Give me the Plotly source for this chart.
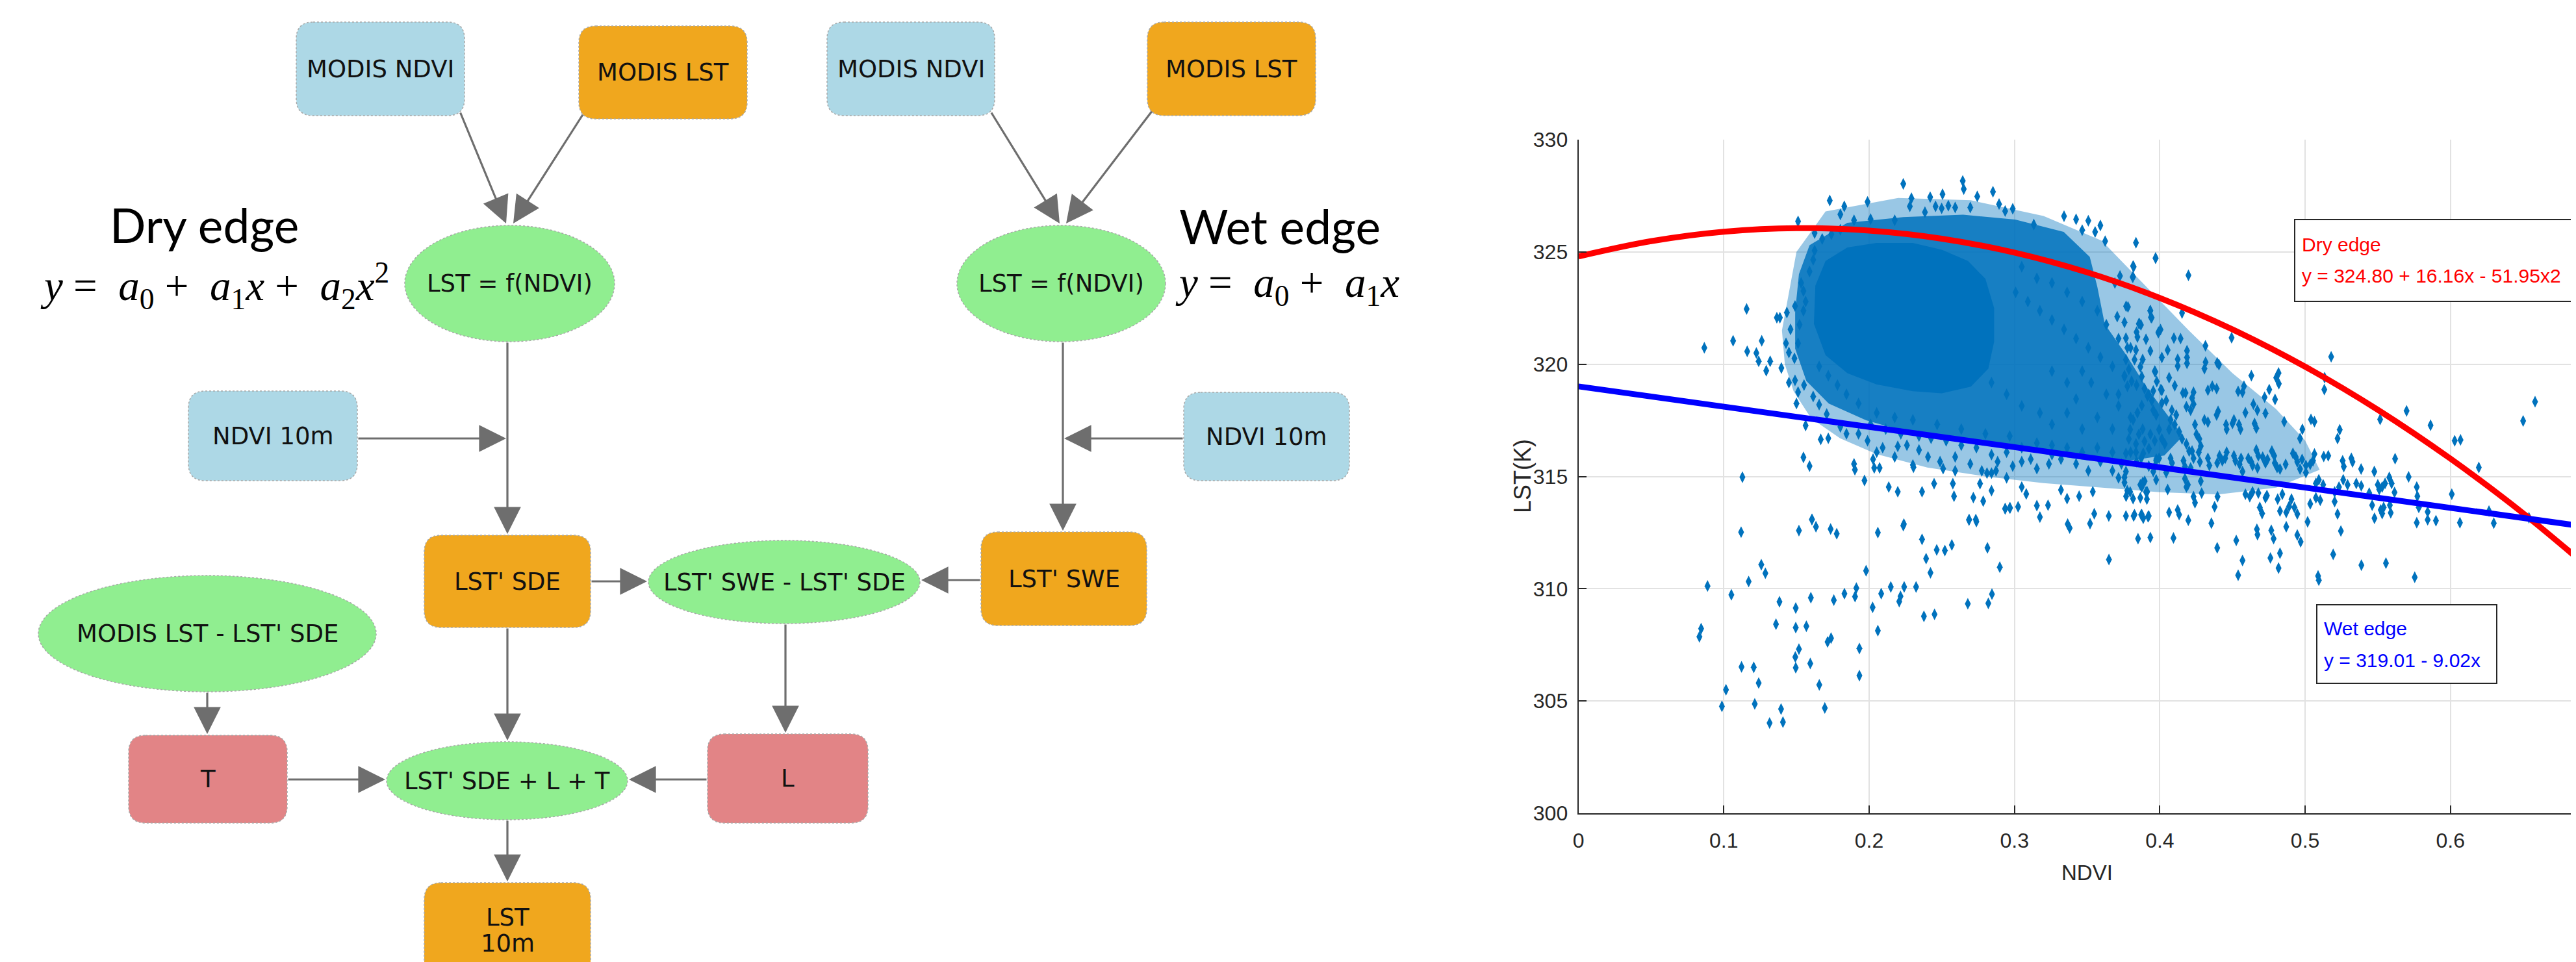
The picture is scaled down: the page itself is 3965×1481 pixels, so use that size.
import plotly.graph_objects as go

W, H = 3965, 1481

# ------------------------------------------------------------------ scatter data
NDVI_TICKS = [0, 0.1, 0.2, 0.3, 0.4, 0.5, 0.6]
NDVI_TICK_LABELS = ["0", "0.1", "0.2", "0.3", "0.4", "0.5", "0.6"]
LST_TICKS = [300, 305, 310, 315, 320, 325, 330]
LST_TICK_LABELS = ["300", "305", "310", "315", "320", "325", "330"]

PTS_LOWER_LEFT = [
    (0.0888, 310.12), (0.0844, 308.22), (0.0832, 307.86), (0.1119, 312.52), (0.1052, 309.73),
    (0.1171, 310.32), (0.1258, 311.07), (0.1286, 310.69), (0.1383, 309.42), (0.1359, 308.42),
    (0.1122, 306.52), (0.1206, 306.50), (0.1240, 305.80), (0.1015, 305.50), (0.0987, 304.76),
    (0.1213, 304.87), (0.1394, 304.64), (0.1315, 304.02), (0.1407, 304.06), (0.1517, 312.59),
    (0.1607, 313.09), (0.1634, 312.76), (0.1735, 312.66), (0.1777, 312.45), (0.1495, 309.14),
    (0.1495, 308.27), (0.1568, 308.33), (0.1599, 309.60), (0.1517, 307.31), (0.1492, 306.96),
    (0.1495, 306.48), (0.1595, 306.67), (0.1657, 305.72), (0.1695, 304.69), (0.1714, 307.63),
    (0.1738, 307.80), (0.1757, 309.49), (0.1830, 309.78), (0.1903, 309.65), (0.1912, 310.03),
    (0.1979, 310.80), (0.1933, 307.34), (0.1933, 306.13), (0.2024, 309.17), (0.2060, 312.50),
    (0.2060, 308.13), (0.2083, 309.78), (0.2149, 310.08), (0.2216, 309.66), (0.2207, 309.43),
    (0.2241, 310.08), (0.2235, 312.81), (0.2323, 310.08), (0.2364, 312.20), (0.2392, 311.34),
    (0.2422, 310.71), (0.2465, 311.73), (0.2521, 311.70), (0.2569, 311.95), (0.2377, 308.77),
    (0.2450, 308.86), (0.2687, 313.06), (0.2738, 312.99), (0.2785, 313.90), (0.2814, 311.82),
    (0.2899, 310.96), (0.2845, 309.76), (0.2820, 309.35), (0.2679, 309.33), (0.2936, 313.56),
    (0.2970, 313.60), (0.3025, 313.65), (0.338, 312.70), (0.365, 311.30), (0.352, 312.90),
]

PTS_UPPER = [
    (0.2235, 328.03), (0.2644, 328.16), (0.2651, 327.80), (0.2505, 327.57), (0.2852, 327.68),
    (0.2744, 327.47), (0.2291, 327.39), (0.2420, 327.44), (0.1729, 327.29), (0.1989, 327.23),
    (0.1829, 327.03), (0.2280, 327.03), (0.2457, 327.03), (0.2545, 327.06), (0.2696, 326.98),
    (0.2894, 327.13), (0.2988, 326.92), (0.2592, 326.98), (0.2384, 326.77), (0.2499, 326.94),
    (0.1802, 326.67), (0.2010, 326.46), (0.2176, 326.41), (0.2936, 326.82), (0.3133, 326.22),
    (0.3341, 326.59), (0.3424, 326.45), (0.3508, 326.39), (0.3591, 326.18), (0.3466, 325.97),
    (0.3555, 325.89), (0.3624, 325.48), (0.3836, 325.41), (0.3971, 324.73), (0.3820, 324.34),
    (0.3726, 323.93), (0.3813, 323.88), (0.3691, 323.62), (0.3768, 322.58), (0.3934, 322.38),
    (0.3944, 322.07), (0.3859, 321.81), (0.3990, 321.40), (0.3707, 322.12), (0.3757, 321.86),
    (0.1511, 326.36), (0.1625, 325.84),
    (0.1532, 323.62), (0.1548, 323.26), (0.1563, 322.79), (0.1590, 324.13), (0.1615, 324.65),
    (0.1625, 325.06), (0.1677, 325.58), (0.1740, 325.79), (0.1802, 325.99), (0.1896, 326.41),
]

PTS_LEFT = [
    (0.1157, 322.46), (0.0866, 320.73), (0.1064, 321.04), (0.1261, 321.04), (0.1161, 320.57),
    (0.1224, 320.50), (0.1240, 320.13), (0.1319, 320.13), (0.1396, 319.83), (0.1292, 319.71),
    (0.1365, 322.07), (0.1386, 322.07), (0.1434, 322.30), (0.1490, 322.59), (0.1459, 321.55),
    (0.1428, 320.93), (0.1448, 320.52), (0.1486, 320.26), (0.1511, 320.93), (0.1521, 321.76),
    (0.1548, 322.38), (0.1448, 319.18), (0.1490, 319.28), (0.1511, 318.76), (0.1552, 319.07),
    (0.1500, 318.25), (0.1563, 317.27), (0.1548, 315.85), (0.1590, 315.46), (0.1128, 314.97),
    (0.1606, 313.08), (0.1615, 318.56), (0.1656, 318.20), (0.1708, 317.78), (0.1719, 316.70),
    (0.1667, 316.65),
    (0.1656, 319.90), (0.1719, 319.49), (0.1782, 319.07), (0.1844, 318.66), (0.1927, 318.25),
    (0.2052, 317.83), (0.2176, 317.63), (0.2301, 317.52), (0.2468, 317.32), (0.2634, 317.11),
    (0.2800, 316.90), (0.2967, 316.80),
]

PTS_BOTTOM = [
    (0.1968, 314.82), (0.2135, 314.53), (0.2197, 314.32), (0.2239, 312.88), (0.2364, 314.32),
    (0.2447, 314.68), (0.2576, 314.68), (0.2584, 314.12), (0.2717, 314.06), (0.2763, 314.68),
    (0.2842, 314.37), (0.2936, 313.57), (0.2967, 313.60), (0.3050, 314.53), (0.3081, 314.22),
    (0.3154, 313.70), (0.3175, 313.19), (0.3231, 313.72), (0.3320, 314.40), (0.3362, 314.01),
    (0.3445, 314.12), (0.3539, 314.32), (0.3549, 313.34), (0.3649, 313.24), (0.3716, 314.94),
    (0.3757, 314.73), (0.3768, 314.12), (0.3820, 313.24), (0.3872, 313.29), (0.3924, 313.24),
    (0.3882, 314.73), (0.3913, 314.32), (0.2688, 313.08), (0.2734, 313.08), (0.3366, 312.88),
    (0.2946, 314.94), (0.2842, 315.15), (0.2775, 315.25),
    (0.1802, 317.21), (0.1844, 316.90), (0.1896, 315.56), (0.1902, 315.30), (0.2027, 315.77),
    (0.2035, 315.38), (0.2072, 315.38), (0.2197, 316.34), (0.2260, 316.39), (0.2301, 315.51),
    (0.2305, 315.41), (0.2488, 315.66), (0.2509, 315.35), (0.2592, 315.25), (0.2696, 315.56),
    (0.2811, 315.15), (0.2873, 315.25), (0.2988, 315.46), (0.3050, 315.66), (0.3154, 315.35),
    (0.3237, 315.56), (0.3258, 315.97), (0.3320, 315.77), (0.3424, 315.56), (0.3508, 315.25),
    (0.3591, 315.66), (0.3674, 315.25), (0.3736, 315.56), (0.3840, 315.66), (0.3924, 315.46),
    (0.3976, 315.77), (0.3799, 316.08), (0.3674, 316.08), (0.3570, 316.28), (0.3466, 316.08),
    (0.3362, 316.28), (0.3258, 316.39), (0.3154, 316.49), (0.3050, 316.28), (0.2946, 316.08),
    (0.2842, 315.97), (0.2738, 316.28), (0.2634, 316.39), (0.2530, 316.59), (0.2426, 316.70),
    (0.2343, 316.80), (0.2218, 316.90), (0.2114, 317.11), (0.2010, 317.32), (0.1927, 316.90),
    (0.1989, 316.59), (0.2093, 316.28), (0.2343, 316.18), (0.2405, 315.87), (0.2176, 315.87),
    (0.2052, 316.08), (0.2592, 315.87), (0.2884, 315.66), (0.3112, 315.77),
]

PTS_MID = [
    (0.3050, 324.34), (0.3154, 323.82), (0.3258, 323.62), (0.3362, 323.20), (0.3466, 322.79),
    (0.3570, 322.38), (0.3632, 321.76), (0.3716, 321.14), (0.3799, 320.73), (0.3882, 320.21),
    (0.3965, 319.69), (0.4007, 318.87), (0.3924, 318.66), (0.3840, 319.07), (0.3757, 319.49),
    (0.3674, 319.90), (0.3591, 320.31), (0.3508, 320.73), (0.3424, 321.14), (0.3341, 321.55),
    (0.3258, 321.97), (0.3175, 322.38), (0.3092, 322.79), (0.3008, 323.20), (0.3528, 319.18),
    (0.3632, 318.66), (0.3716, 318.14), (0.3799, 317.63), (0.3882, 317.11), (0.3965, 316.59),
    (0.3424, 318.45), (0.3362, 317.83), (0.3570, 317.63), (0.3674, 317.11), (0.3466, 317.11),
    (0.3258, 317.32), (0.3362, 319.18), (0.3258, 319.69), (0.3466, 319.69), (0.3716, 318.66),
    (0.3050, 318.14), (0.3175, 317.83), (0.2946, 318.66), (0.2842, 319.18),
]

PTS_TAIL = [
    (0.3971, 324.72), (0.3816, 324.37), (0.3816, 323.89), (0.4197, 323.96), (0.3781, 322.55),
    (0.3935, 322.39), (0.3939, 322.09), (0.4153, 322.28), (0.3856, 321.80), (0.3870, 321.75),
    (0.4005, 321.54), (0.3991, 321.43), (0.3840, 321.43), (0.3846, 321.21), (0.3905, 321.11),
    (0.4097, 321.16), (0.4143, 321.14), (0.4494, 321.18), (0.4314, 320.82), (0.3935, 320.59),
    (0.4054, 320.63), (0.4187, 320.60), (0.4187, 320.30), (0.4187, 320.04), (0.4014, 320.30),
    (0.4123, 320.22), (0.4123, 319.92), (0.4315, 320.09), (0.4307, 319.80), (0.4395, 320.06),
    (0.4407, 319.98), (0.4630, 319.49), (0.4801, 319.40), (0.4817, 319.61), (0.4819, 319.13),
    (0.3969, 319.66), (0.3979, 319.23), (0.4064, 319.40), (0.4103, 319.04), (0.4014, 318.83),
    (0.3955, 318.81), (0.4159, 318.72), (0.4177, 318.72), (0.4331, 318.84), (0.4361, 319.02),
    (0.4391, 318.91), (0.4539, 318.79), (0.4569, 318.75), (0.4579, 319.02), (0.4232, 318.75),
    (0.4222, 318.49), (0.4232, 318.22), (0.4753, 318.87), (0.4721, 318.53), (0.4793, 318.43),
    (0.5132, 318.87), (0.5179, 320.33), (0.5134, 319.40), (0.4644, 318.22), (0.4671, 317.95),
    (0.4727, 317.81), (0.4589, 317.84), (0.4401, 317.90), (0.4391, 317.74), (0.4510, 317.52),
    (0.4500, 317.36), (0.4331, 317.42), (0.4307, 317.52), (0.4183, 318.11), (0.4212, 317.95),
    (0.4083, 317.95), (0.4113, 317.74), (0.4014, 318.27), (0.4044, 318.38), (0.4456, 317.31),
    (0.4460, 317.10), (0.4545, 317.31), (0.4555, 317.10), (0.4652, 317.36), (0.4664, 317.15),
    (0.4856, 317.44), (0.4981, 317.10), (0.5040, 317.54), (0.5064, 317.44), (0.4965, 316.69),
    (0.5223, 316.69), (0.5238, 317.08), (0.5516, 317.54), (0.5698, 317.92), (0.5863, 317.28),
    (0.6029, 316.59), (0.6069, 316.63), (0.6500, 317.47), (0.6582, 318.33), (0.6195, 315.40),
    (0.5619, 315.79), (0.5712, 314.98), (0.5385, 315.33), (0.5476, 315.22), (0.5258, 315.70),
    (0.5266, 315.44), (0.5318, 315.81), (0.5326, 315.65), (0.5128, 315.89), (0.5159, 315.92),
    (0.5064, 316.00), (0.5054, 315.70), (0.5035, 315.54), (0.5005, 315.49), (0.5005, 315.17),
    (0.4916, 316.03), (0.4936, 315.86), (0.4946, 315.65), (0.4965, 315.33), (0.4979, 315.76),
    (0.4866, 315.54), (0.4827, 315.33), (0.4771, 316.13), (0.4787, 315.92), (0.4791, 315.60),
    (0.4807, 315.40), (0.4741, 315.76), (0.4727, 315.60), (0.4708, 315.86), (0.4664, 316.18),
    (0.4678, 315.92), (0.4672, 315.38), (0.4609, 315.81), (0.4629, 315.65), (0.4638, 315.49),
    (0.4559, 315.81), (0.4549, 315.54), (0.4569, 315.22), (0.4510, 315.92), (0.4520, 315.70),
    (0.4460, 316.08), (0.4450, 315.81), (0.4411, 315.92), (0.4395, 315.60), (0.4430, 315.70),
    (0.4331, 315.81), (0.4341, 315.49), (0.4282, 316.35), (0.4268, 316.08), (0.4276, 315.65),
    (0.4222, 316.13), (0.4232, 315.81), (0.4212, 315.38), (0.4163, 315.70), (0.4173, 315.44),
    (0.4074, 315.81), (0.4084, 315.60), (0.3975, 315.70), (0.3965, 315.44), (0.3955, 315.22),
    (0.3886, 316.03), (0.3872, 315.81), (0.3836, 316.08), (0.3767, 315.22), (0.3757, 314.96),
    (0.3975, 314.85), (0.4044, 315.17), (0.4054, 314.42), (0.4173, 314.90), (0.4183, 314.53),
    (0.4193, 314.63), (0.4232, 314.10), (0.4242, 313.83), (0.4288, 314.26), (0.4282, 314.79),
    (0.3896, 314.79), (0.3866, 314.63), (0.3876, 314.53), (0.3911, 313.99), (0.3905, 314.31),
    (0.3796, 314.31), (0.3776, 314.37), (0.3816, 314.01), (0.3866, 314.05), (0.3767, 313.24),
    (0.3826, 313.30), (0.3876, 313.30), (0.3886, 313.14), (0.3919, 313.21), (0.3850, 312.23),
    (0.3935, 312.28), (0.4064, 313.40), (0.4123, 313.51), (0.4133, 313.30), (0.4196, 313.05),
    (0.4094, 312.26), (0.4355, 312.92), (0.4377, 313.65), (0.4397, 314.10), (0.4395, 311.82),
    (0.4526, 312.15), (0.4569, 311.26), (0.4539, 310.60), (0.4668, 312.65), (0.4672, 312.41),
    (0.4589, 314.21), (0.4619, 314.10), (0.4638, 314.31), (0.4678, 314.26), (0.4688, 313.62),
    (0.4704, 313.35), (0.4727, 314.05), (0.4737, 314.15), (0.4767, 312.60), (0.4783, 312.23),
    (0.4761, 311.37), (0.4827, 311.58), (0.4817, 310.92), (0.4827, 313.46), (0.4870, 313.40),
    (0.4843, 314.21), (0.4811, 313.99), (0.4906, 313.99), (0.4890, 313.67), (0.4926, 313.62),
    (0.4946, 313.33), (0.4870, 312.76), (0.4946, 312.39), (0.4969, 312.09), (0.5017, 312.98),
    (0.5035, 313.78), (0.5074, 314.05), (0.5104, 313.94), (0.5074, 314.69), (0.5124, 314.63),
    (0.5094, 314.85), (0.5203, 314.31), (0.5203, 313.88), (0.5223, 313.33), (0.5246, 312.57),
    (0.5193, 311.53), (0.5089, 310.57), (0.5094, 310.38), (0.5387, 311.05), (0.5556, 311.14),
    (0.5754, 310.51), (0.5262, 314.85), (0.5292, 314.63), (0.5233, 314.53), (0.5352, 314.69),
    (0.5386, 314.58), (0.5441, 314.26), (0.5461, 313.72), (0.5477, 313.14), (0.5500, 314.63),
    (0.5510, 314.42), (0.5530, 314.53), (0.5550, 314.69), (0.5520, 313.51), (0.5540, 313.62),
    (0.5530, 313.35), (0.5579, 314.96), (0.5595, 314.69), (0.5583, 313.72), (0.5615, 314.29),
    (0.5589, 313.38), (0.5768, 314.53), (0.5772, 314.12), (0.5782, 313.62), (0.5768, 312.94),
    (0.5843, 313.42), (0.5843, 313.07), (0.5900, 313.03), (0.6009, 314.21), (0.6065, 312.94),
    (0.6298, 312.92), (0.6265, 313.46), (0.6540, 313.16),
    (0.3767, 321.16), (0.3777, 320.73), (0.3767, 320.20), (0.3787, 319.77), (0.3757, 319.45),
    (0.3777, 319.02), (0.3806, 319.24), (0.3826, 320.20), (0.3836, 320.63), (0.3866, 319.88),
    (0.3876, 319.45), (0.3895, 318.91), (0.3915, 318.59), (0.3945, 318.38), (0.3955, 317.95),
    (0.3975, 317.74), (0.3876, 318.16), (0.3846, 317.84), (0.3816, 317.52), (0.3796, 317.09),
    (0.3856, 316.88), (0.3895, 316.56), (0.3935, 316.88), (0.3995, 317.09), (0.4014, 316.67),
    (0.4034, 316.45), (0.4064, 317.09), (0.4074, 317.52), (0.4103, 317.31), (0.4133, 316.99),
    (0.4153, 316.67), (0.4183, 316.45), (0.4202, 316.13), (0.4252, 316.88), (0.4272, 316.67),
    (0.4242, 317.31), (0.3995, 315.81), (0.3925, 316.24), (0.3836, 316.45), (0.3787, 316.67),
    (0.3767, 316.03),
]

# outlines of the saturated / densely overplotted parts of the cloud
CORE_NDVI = [0.163, 0.170, 0.185, 0.205, 0.230, 0.250, 0.268, 0.280, 0.286, 0.286,
             0.282, 0.270, 0.250, 0.230, 0.205, 0.185, 0.170, 0.162]
CORE_LST = [323.5, 324.6, 325.2, 325.4, 325.4, 325.1, 324.6, 323.8, 322.5, 321.0,
            319.8, 319.0, 318.7, 318.8, 319.1, 319.6, 320.4, 321.8]
INNER_NDVI = [0.1517, 0.1590, 0.1850, 0.2235, 0.2646, 0.3005, 0.3339, 0.3518, 0.3570, 0.3621,
              0.3775, 0.3903, 0.4031, 0.4160, 0.4031, 0.3775, 0.3518, 0.3262, 0.3005, 0.2749,
              0.2492, 0.2235, 0.1979, 0.1722, 0.1568, 0.1491, 0.1491]
INNER_LST = [324.01, 325.30, 326.30, 326.55, 326.66, 326.44, 325.89, 324.78, 323.45, 321.79,
             320.35, 319.02, 317.92, 316.81, 315.93, 315.70, 315.70, 315.93, 316.26, 316.48,
             316.70, 317.03, 317.50, 318.25, 319.25, 320.69, 322.35]
OUTER_NDVI = [0.140, 0.150, 0.170, 0.220, 0.270, 0.320, 0.360, 0.390, 0.420, 0.450, 0.480,
              0.500, 0.510, 0.480, 0.440, 0.400, 0.360, 0.320, 0.280, 0.240, 0.205, 0.180,
              0.160, 0.148, 0.142]
OUTER_LST = [321.5, 325.0, 326.8, 327.4, 327.3, 326.6, 325.5, 323.5, 321.5, 319.6, 318.0,
             316.6, 315.3, 314.5, 314.2, 314.3, 314.5, 314.7, 315.0, 315.4, 316.0, 316.7,
             317.6, 318.8, 320.0]

DRY_NDVI = [0, 0.05, 0.10, 0.15, 0.20, 0.25, 0.30, 0.35, 0.40, 0.45, 0.50, 0.55, 0.60, 0.65, 0.70]
DRY_LST = [324.80, 325.48, 325.90, 326.06, 325.95, 325.59, 324.97, 324.09, 322.95, 321.55,
           319.89, 317.97, 315.79, 313.36, 310.66]
WET_NDVI = [0, 0.70]
WET_LST = [319.01, 312.70]

DRY_TEXT = ["Dry edge", "y = 324.80 + 16.16x - 51.95x2"]
WET_TEXT = ["Wet edge", "y = 319.01 - 9.02x"]
AXIS_TITLES = ["NDVI", "LST(K)"]

# ------------------------------------------------------------------ flowchart content
NODE_LABELS = {
    "ndvi_l": "MODIS NDVI", "lst_l": "MODIS LST", "f_l": "LST = f(NDVI)",
    "ndvi10_l": "NDVI 10m", "sde": "LST' SDE", "diff": "LST' SWE - LST' SDE",
    "swe": "LST' SWE", "mod_diff": "MODIS LST - LST' SDE", "T": "T",
    "sum": "LST' SDE + L + T", "L": "L", "lst10": "",
    "ndvi_r": "MODIS NDVI", "lst_r": "MODIS LST", "f_r": "LST = f(NDVI)",
    "ndvi10_r": "NDVI 10m",
}
LST10_LINES = ["LST", "10m"]
EDGE_TITLES = ["Dry edge", "Wet edge"]
EDGE_EQUATIONS = [
    "<i>y</i> =\u00a0\u00a0<i>a</i><sub>0</sub> +\u00a0\u00a0<i>a</i><sub>1</sub><i>x</i> +\u00a0\u00a0<i>a</i><sub>2</sub><i>x</i><sup>2</sup>",
    "<i>y</i> =\u00a0\u00a0<i>a</i><sub>0</sub> +\u00a0\u00a0<i>a</i><sub>1</sub><i>x</i>",
]

# ------------------------------------------------------------------ styles / layout geometry
BLUE_BOX, ORANGE_BOX, GREEN_BOX, RED_BOX = "#ADD8E6", "#F0A71E", "#90EE90", "#E28486"
MATLAB_BLUE = "#0072BD"
ARROW_COLOR = "#6E6E6E"

NODE_GEOM = {
    "ndvi_l": ("rect", 456, 34, 715, 178, BLUE_BOX),
    "lst_l": ("rect", 891, 40, 1150, 183, ORANGE_BOX),
    "f_l": ("ellipse", 623, 347, 946, 526, GREEN_BOX),
    "ndvi10_l": ("rect", 290, 602, 550, 740, BLUE_BOX),
    "sde": ("rect", 653, 824, 909, 966, ORANGE_BOX),
    "diff": ("ellipse", 998, 832, 1416, 960, GREEN_BOX),
    "swe": ("rect", 1510, 819, 1765, 963, ORANGE_BOX),
    "mod_diff": ("ellipse", 59, 886, 579, 1065, GREEN_BOX),
    "T": ("rect", 198, 1132, 442, 1267, RED_BOX),
    "sum": ("ellipse", 595, 1142, 966, 1262, GREEN_BOX),
    "L": ("rect", 1089, 1130, 1336, 1267, RED_BOX),
    "lst10": ("rect", 653, 1359, 909, 1530, ORANGE_BOX),
    "ndvi_r": ("rect", 1273, 34, 1531, 178, BLUE_BOX),
    "lst_r": ("rect", 1766, 34, 2025, 178, ORANGE_BOX),
    "f_r": ("ellipse", 1473, 347, 1794, 526, GREEN_BOX),
    "ndvi10_r": ("rect", 1822, 604, 2077, 740, BLUE_BOX),
}
LST10_TEXT_Y = [1412, 1452]

ARROWS = [  # tail x, tail y, head x, head y
    (708, 172, 779, 344), (898, 175, 790, 344), (781, 526, 781, 822), (550, 675, 779, 675),
    (1525, 172, 1631, 344), (1774, 170, 1641, 344), (1636, 526, 1636, 817), (1822, 675, 1638, 675),
    (909, 895, 996, 895), (1510, 893, 1418, 893), (781, 966, 781, 1140), (1209, 960, 1209, 1128),
    (319, 1065, 319, 1130), (442, 1200, 593, 1200), (1089, 1200, 968, 1200), (781, 1262, 781, 1357),
]
EDGE_TITLE_POS = [(314, 346), (1970, 348)]
EDGE_EQ_POS = [(330, 440), (1981, 440)]

OFF = 8                       # default page (body) margin of the html file
FW, FH = W - OFF, H - OFF     # figure size so that the page does not overflow
X_DOM = [(2429.6 - OFF) / FW, 1.0]
Y_DOM = [(H - 1252) / FH, (H - 215) / FH]
X_RANGE = [0, (W - 2429.6) / 2237.0]

TICKFONT = "Liberation Sans, Arial, sans-serif"
NODEFONT = dict(family="DejaVu Sans", size=37, color="#111111")


def rrect(x0, y0, x1, y1, r):
    return (f"M{x0 + r},{y0} L{x1 - r},{y0} Q{x1},{y0} {x1},{y0 + r} L{x1},{y1 - r} "
            f"Q{x1},{y1} {x1 - r},{y1} L{x0 + r},{y1} Q{x0},{y1} {x0},{y1 - r} "
            f"L{x0},{y0 + r} Q{x0},{y0} {x0 + r},{y0} Z")


fig = go.Figure()

# overplotted regions of the scatter cloud
for nd, ls, col in [(OUTER_NDVI, OUTER_LST, "rgba(0,114,189,0.40)"),
                    (INNER_NDVI, INNER_LST, "rgba(0,114,189,0.85)"),
                    (CORE_NDVI, CORE_LST, MATLAB_BLUE)]:
    fig.add_trace(go.Scatter(x=nd + nd[:1], y=ls + ls[:1], mode="lines", fill="toself",
                             fillcolor=col, line=dict(width=0),
                             hoverinfo="skip", showlegend=False, xaxis="x", yaxis="y"))

all_pts = PTS_LOWER_LEFT + PTS_UPPER + PTS_LEFT + PTS_BOTTOM + PTS_MID + PTS_TAIL
fig.add_trace(go.Scatter(x=[p[0] for p in all_pts], y=[p[1] for p in all_pts], mode="markers",
                         marker=dict(symbol="diamond-tall", size=13, color=MATLAB_BLUE,
                                     line=dict(width=0)),
                         showlegend=False, xaxis="x", yaxis="y"))

fig.add_trace(go.Scatter(x=DRY_NDVI, y=DRY_LST, mode="lines", line=dict(color="#FF0000", width=9,
                         shape="spline"), showlegend=False, xaxis="x", yaxis="y"))
fig.add_trace(go.Scatter(x=WET_NDVI, y=WET_LST, mode="lines", line=dict(color="#0000FF", width=9),
                         showlegend=False, xaxis="x", yaxis="y"))

shapes = []
annotations = []

# flowchart nodes
for key, (kind, x0, y0, x1, y1, col) in NODE_GEOM.items():
    if kind == "rect":
        shapes.append(dict(type="path", path=rrect(x0, y0, x1, y1, 26), xref="x2", yref="y2",
                           fillcolor=col, line=dict(color="#A8A8A8", width=1.5, dash="dot"),
                           layer="below"))
    else:
        shapes.append(dict(type="circle", x0=x0, y0=y0, x1=x1, y1=y1, xref="x2", yref="y2",
                           fillcolor=col, line=dict(color="#A8A8A8", width=1.5, dash="dot"),
                           layer="below"))
    if NODE_LABELS[key]:
        annotations.append(dict(x=(x0 + x1) / 2, y=(y0 + y1) / 2, xref="x2", yref="y2",
                                text=NODE_LABELS[key], showarrow=False, font=NODEFONT,
                                xanchor="center", yanchor="middle"))

_, lx0, _, lx1, _, _ = NODE_GEOM["lst10"]
for t, ty in zip(LST10_LINES, LST10_TEXT_Y):
    annotations.append(dict(x=(lx0 + lx1) / 2, y=ty, xref="x2", yref="y2", text=t,
                            showarrow=False, font=NODEFONT, xanchor="center", yanchor="middle"))

for (tx, ty, hx, hy) in ARROWS:
    annotations.append(dict(x=hx, y=hy, ax=tx, ay=ty, xref="x2", yref="y2", axref="x2", ayref="y2",
                            text="", showarrow=True, arrowhead=2, arrowsize=2.6, arrowwidth=3.2,
                            arrowcolor=ARROW_COLOR, standoff=0, startstandoff=0))

for (px, py), t in zip(EDGE_TITLE_POS, EDGE_TITLES):
    annotations.append(dict(x=px, y=py, xref="x2", yref="y2", text=t, showarrow=False,
                            font=dict(family="Lato", size=73, color="#000000"),
                            xanchor="center", yanchor="middle"))
for (px, py), t in zip(EDGE_EQ_POS, EDGE_EQUATIONS):
    annotations.append(dict(x=px, y=py, xref="x2", yref="y2", text=t, showarrow=False,
                            font=dict(family="Liberation Serif", size=65, color="#000000"),
                            xanchor="center", yanchor="middle"))

# scatter legend boxes
shapes.append(dict(type="rect", x0=3532, y0=338, x1=4010, y1=464, xref="x2", yref="y2",
                   line=dict(color="#262626", width=2), fillcolor="white", layer="above"))
shapes.append(dict(type="rect", x0=3566, y0=931, x1=3843, y1=1052, xref="x2", yref="y2",
                   line=dict(color="#262626", width=2), fillcolor="white", layer="above"))
for (py, t) in zip([376, 424], DRY_TEXT):
    annotations.append(dict(x=3541, y=py, xref="x2", yref="y2", text=t, showarrow=False,
                            font=dict(family=TICKFONT, size=30, color="#FF0000"),
                            xanchor="left", yanchor="middle"))
for (py, t) in zip([967, 1016], WET_TEXT):
    annotations.append(dict(x=3575, y=py, xref="x2", yref="y2", text=t, showarrow=False,
                            font=dict(family=TICKFONT, size=30, color="#0000FF"),
                            xanchor="left", yanchor="middle"))

# axis titles
annotations.append(dict(x=0.35, y=1343, xref="x", yref="y2", text=AXIS_TITLES[0], showarrow=False,
                        font=dict(family=TICKFONT, size=33, color="#262626"),
                        xanchor="center", yanchor="middle"))
annotations.append(dict(x=2343, y=733, xref="x2", yref="y2", text=AXIS_TITLES[1], showarrow=False,
                        textangle=-90, font=dict(family=TICKFONT, size=36, color="#262626"),
                        xanchor="center", yanchor="middle"))

fig.update_layout(
    width=FW, height=FH, margin=dict(l=0, r=0, t=0, b=0, pad=0), autosize=False,
    paper_bgcolor="white", plot_bgcolor="rgba(0,0,0,0)",
    showlegend=False,
    xaxis=dict(domain=X_DOM, range=X_RANGE, tickvals=NDVI_TICKS, ticktext=NDVI_TICK_LABELS,
               ticks="inside", ticklen=12, tickwidth=2, tickcolor="#262626",
               showline=True, linecolor="#262626", linewidth=2, mirror=False,
               showgrid=True, gridcolor="#E2E2E2", gridwidth=2, zeroline=False,
               tickfont=dict(family=TICKFONT, size=32, color="#262626"),
               ticklabelstandoff=13, anchor="y", fixedrange=True, automargin=False),
    yaxis=dict(domain=Y_DOM, range=[300, 330], tickvals=LST_TICKS, ticktext=LST_TICK_LABELS,
               ticks="inside", ticklen=12, tickwidth=2, tickcolor="#262626",
               showline=True, linecolor="#262626", linewidth=2, mirror=False,
               showgrid=True, gridcolor="#E2E2E2", gridwidth=2, zeroline=False,
               tickfont=dict(family=TICKFONT, size=32, color="#262626"),
               ticklabelstandoff=8, anchor="x", fixedrange=True, automargin=False),
    xaxis2=dict(domain=[0, 1], range=[OFF, W], visible=False, anchor="y2", fixedrange=True,
                automargin=False),
    yaxis2=dict(domain=[0, 1], range=[H, OFF], visible=False, anchor="x2", fixedrange=True,
                automargin=False),
    shapes=shapes, annotations=annotations,
)

fig.write_html("out.html")
